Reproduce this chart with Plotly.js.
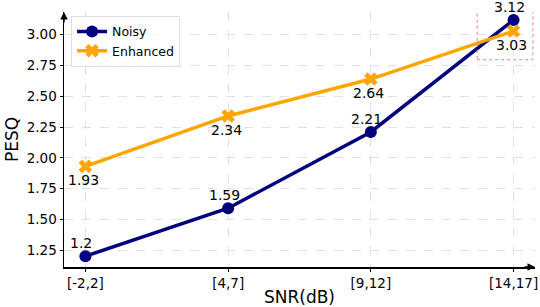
<!DOCTYPE html>
<html><head><meta charset="utf-8">
<script src="https://cdn.plot.ly/plotly-3.0.1.min.js"></script>
<style>html,body{margin:0;padding:0;background:#fff;}#chart{width:540px;height:307px;}</style>
</head><body><div id="chart"></div>
<script>
var categories = ["[-2,2]", "[4,7]", "[9,12]", "[14,17]"];
var noisy = [1.2, 1.59, 2.21, 3.12];
var enhanced = [1.93, 2.34, 2.64, 3.03];
var noisyLabels = ["1.2", "1.59", "2.21", "3.12"];
var enhancedLabels = ["1.93", "2.34", "2.64", "3.03"];
var yTicks = [1.25, 1.5, 1.75, 2.0, 2.25, 2.5, 2.75, 3.0];

var xIdx = categories.map(function(c, i){ return i; });

var traces = [
  {x: xIdx, y: noisy, name: "Noisy", mode: "lines+markers",
   line: {color: "#000080", width: 3.5}, marker: {symbol: "circle", size: 12, color: "#000080"}},
  {x: xIdx, y: enhanced, name: "Enhanced", mode: "lines+markers",
   line: {color: "#FFA500", width: 3.5}, marker: {symbol: "x", size: 12, color: "#FFA500"}}
];

var annotations = [];
noisy.forEach(function(v, i){
  annotations.push({x: i, y: v, xref: "x", yref: "y", text: noisyLabels[i], showarrow: false,
    yshift: 13, xshift: -4, font: {size: 14, color: "#000", family: "DejaVu Sans"}});
});
enhanced.forEach(function(v, i){
  annotations.push({x: i, y: v, xref: "x", yref: "y", text: enhancedLabels[i], showarrow: false,
    yshift: -14, xshift: -2, font: {size: 14, color: "#000", family: "DejaVu Sans"}});
});
// axis arrows
annotations.push({x: 1, y: 0, xref: "paper", yref: "paper", ax: -12, ay: 0, text: "", showarrow: true,
  arrowhead: 2, arrowsize: 1, arrowwidth: 1.5, arrowcolor: "#000"});
annotations.push({x: 0, y: 1, xref: "paper", yref: "paper", ax: 0, ay: 12, text: "", showarrow: true,
  arrowhead: 2, arrowsize: 1, arrowwidth: 1.5, arrowcolor: "#000"});

var layout = {
  width: 540, height: 307,
  margin: {l: 64, r: 5, t: 12, b: 40},
  paper_bgcolor: "#fff", plot_bgcolor: "#fff",
  font: {family: "DejaVu Sans", color: "#000"},
  showlegend: true,
  legend: {x: 0.015, y: 0.985, xanchor: "left", yanchor: "top", bgcolor: "rgba(255,255,255,0.8)",
    bordercolor: "#e0e0e0", borderwidth: 1, font: {size: 12.5}, itemwidth: 30, tracegroupgap: 2},
  xaxis: {range: [-0.15, 3.15], tickmode: "array", tickvals: xIdx, ticktext: categories,
    showgrid: true, gridcolor: "#d9d9d9", griddash: "dash", gridwidth: 0.8,
    showline: true, linecolor: "#000", linewidth: 1.5, zeroline: false,
    ticks: "outside", ticklen: 3, tickcolor: "#000", tickwidth: 1, tickfont: {size: 13.5},
    title: {text: "SNR(dB)", font: {size: 17}, standoff: 3}},
  yaxis: {range: [1.112, 3.185], tickmode: "array", tickvals: yTicks,
    ticktext: yTicks.map(function(t){ return t.toFixed(2); }),
    showgrid: true, gridcolor: "#d9d9d9", griddash: "dash", gridwidth: 0.8,
    showline: true, linecolor: "#000", linewidth: 1.5, zeroline: false,
    ticks: "outside", ticklen: 3, tickcolor: "#000", tickwidth: 1, tickfont: {size: 13.5},
    title: {text: "PESQ", font: {size: 17}, standoff: 4}},
  shapes: [{type: "rect", xref: "x", yref: "y", x0: 2.745, x1: 3.135, y0: 2.797, y1: 3.19,
    line: {color: "#f08080", width: 1, dash: "dot"}}],
  annotations: annotations
};

Plotly.newPlot("chart", traces, layout, {displayModeBar: false, staticPlot: true});
</script></body></html>
